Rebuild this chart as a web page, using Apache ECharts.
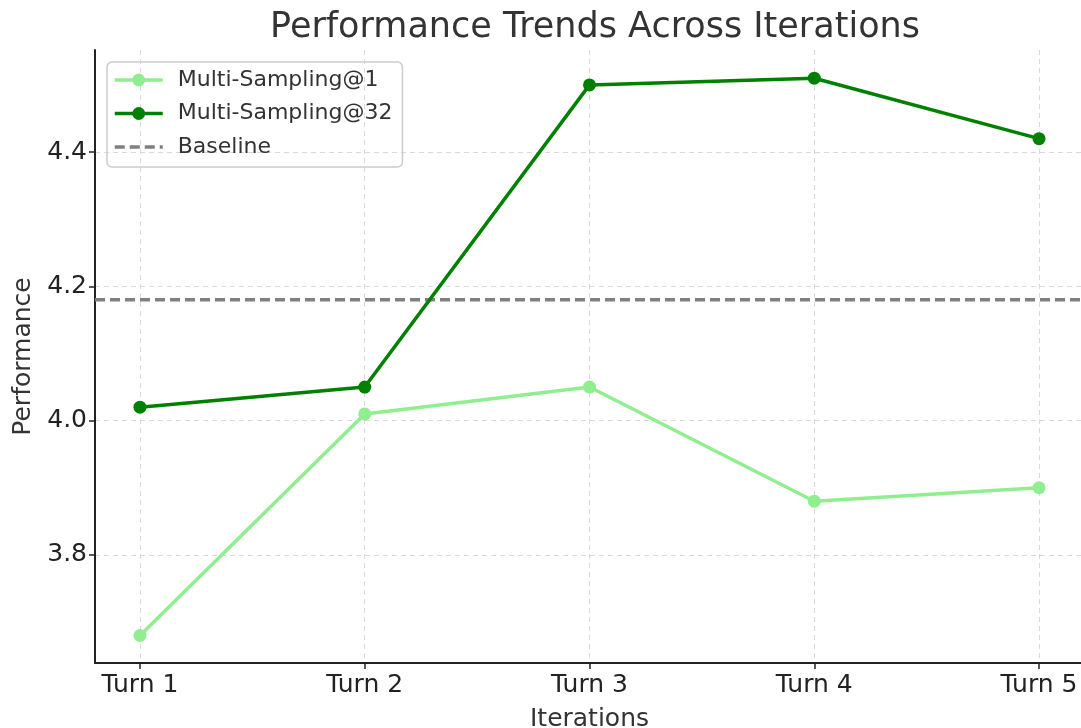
<!DOCTYPE html>
<html><head><meta charset="utf-8">
<script src="https://cdn.jsdelivr.net/npm/echarts@6/dist/echarts.min.js"></script>
<style>html,body{margin:0;padding:0;background:#fff}#c{width:1081px;height:728px}</style>
</head><body><div id="c"></div>
<script>
const categories = ['Turn 1','Turn 2','Turn 3','Turn 4','Turn 5'];
const ms1 = [3.68, 4.01, 4.05, 3.88, 3.90];
const ms32 = [4.02, 4.05, 4.50, 4.51, 4.42];
const baseline = 4.18;
const yTicks = [3.8, 4.0, 4.2, 4.4];
const xMin = -0.2, xMax = 4.2;

const font = 'DejaVu Sans';
const toPts = arr => arr.map((v,i)=>[i,v]);
const xIdx = categories.map((c,i)=>i);

const chart = echarts.init(document.getElementById('c'));
chart.setOption({
  backgroundColor:'#fff',
  animation:false,
  title:{text:'Performance Trends Across Iterations',left:590,textAlign:'center',top:5,
    textStyle:{fontFamily:font,fontSize:35,fontWeight:'normal',color:'#333'}},
  grid:{left:95,right:-3,top:50,bottom:65,outerBoundsMode:'none',containLabel:false},
  legend:{orient:'vertical',left:107,top:62,itemWidth:48,itemHeight:16,itemGap:11.5,
    padding:[7,10,9,6],borderColor:'#ccc',borderWidth:1.5,borderRadius:5,
    lineStyle:{width:3.5},
    textStyle:{fontFamily:font,fontSize:22,color:'#333',padding:[0,0,0,10]},
    data:['Multi-Sampling@1','Multi-Sampling@32',{name:'Baseline',itemStyle:{opacity:0}}]},
  xAxis:{type:'value',min:xMin,max:xMax,
    name:'Iterations',nameLocation:'middle',nameGap:44,
    nameTextStyle:{fontFamily:font,fontSize:25,color:'#333'},
    axisLine:{onZero:false,lineStyle:{color:'#222',width:2}},
    axisTick:{show:true,customValues:xIdx,length:6,lineStyle:{color:'#222',width:1.5}},
    axisLabel:{customValues:xIdx,formatter:v=>categories[Math.round(v)],margin:10,
      fontFamily:font,fontSize:25,color:'#222'},
    splitLine:{show:true,lineStyle:{color:'#d9d9d9',type:[5,4],width:1}}},
  yAxis:{type:'value',min:3.639,max:4.552,
    name:'Performance',nameLocation:'middle',nameGap:56,
    nameTextStyle:{fontFamily:font,fontSize:25,color:'#333'},
    axisLine:{show:true,onZero:false,lineStyle:{color:'#222',width:2}},
    axisTick:{show:true,customValues:yTicks,length:6,lineStyle:{color:'#222',width:1.5}},
    axisLabel:{customValues:yTicks,formatter:v=>v.toFixed(1),margin:8,
      fontFamily:font,fontSize:25,color:'#222'},
    splitLine:{show:true,lineStyle:{color:'#d9d9d9',type:[5,4],width:1}}},
  series:[
    {name:'Multi-Sampling@1',type:'line',data:toPts(ms1),symbol:'circle',symbolSize:13,
     lineStyle:{color:'#90EE90',width:3.5},itemStyle:{color:'#90EE90'},z:3},
    {name:'Multi-Sampling@32',type:'line',data:toPts(ms32),symbol:'circle',symbolSize:13,
     lineStyle:{color:'#008000',width:3.5},itemStyle:{color:'#008000'},z:4},
    {name:'Baseline',type:'line',data:[[xMin,baseline],[xMax,baseline]],symbol:'none',
     lineStyle:{color:'#808080',width:3.5,type:[10,5]},itemStyle:{color:'#808080'},z:2}
  ]
});
</script></body></html>
